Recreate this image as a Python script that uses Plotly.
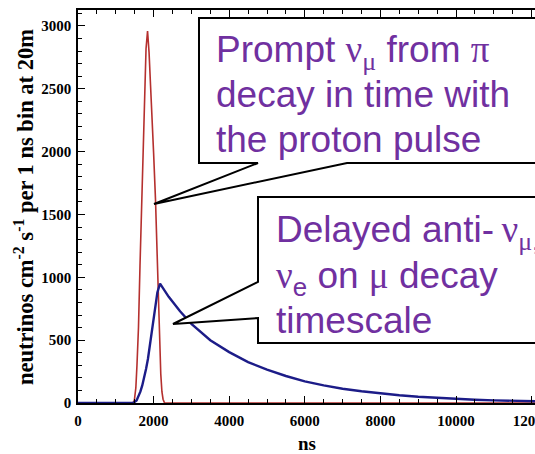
import plotly.graph_objects as go

# ---- data ----
red_ns = [0, 1450, 1490, 1530, 1560, 1600, 1640, 1680, 1720, 1760, 1800, 1840, 1880,
          1920, 1960, 2000, 2050, 2100, 2150, 2190, 2220, 2250, 2290, 12500]
red_val = [0, 0, 20, 120, 300, 600, 1090, 1500, 1920, 2380, 2820, 2960, 2790,
           2520, 2280, 1990, 1620, 1070, 560, 230, 90, 30, 0, 0]

blue_ns = [0, 1460, 1550, 1600, 1650, 1700, 1750, 1800, 1850, 1900, 1950, 2000, 2050,
           2100, 2170, 2400, 2700, 3000, 3500, 4000, 4500, 5000, 5500, 6000, 6500,
           7000, 7500, 8000, 8500, 9000, 9500, 10000, 10500, 11000, 11500, 12000, 12500]
blue_val = [0, 0, 20, 50, 90, 140, 200, 270, 350, 460, 580, 700, 800,
            880, 950, 845, 730, 630, 500, 405, 325, 265, 215, 172, 140,
            113, 93, 76, 62, 50, 40, 32, 26, 21, 18, 15, 12]

x_ticks = [0, 2000, 4000, 6000, 8000, 10000, 12000]
y_ticks = [0, 500, 1000, 1500, 2000, 2500, 3000]

W, H = 535, 454
ML, MR, MT, MB = 78, 0, 10, 51
PW, PH = W - ML - MR, H - MT - MB


def px(x):
    return (x - ML) / PW


def py(y):
    return (H - MB - y) / PH


fig = go.Figure()
fig.add_trace(go.Scatter(x=red_ns, y=red_val, mode="lines",
                         line=dict(color="#b5302e", width=1.6), showlegend=False))
fig.add_trace(go.Scatter(x=blue_ns, y=blue_val, mode="lines",
                         line=dict(color="#1c1c88", width=2.4), showlegend=False))

tickfont = dict(family="Liberation Serif, Times New Roman, serif", size=15, color="black")

fig.update_layout(
    width=W, height=H, autosize=False,
    margin=dict(l=ML, r=MR, t=MT, b=MB, pad=0, autoexpand=False),
    paper_bgcolor="white", plot_bgcolor="white",
    xaxis=dict(range=[0, 12090], tickvals=x_ticks, ticktext=[f"<b>{v}</b>" for v in x_ticks],
               ticks="inside", ticklen=7, tickwidth=1, tickcolor="black",
               minor=dict(dtick=500, tick0=0, ticks="inside", ticklen=4, tickcolor="black"),
               showline=True, linecolor="black", linewidth=1.5, mirror="ticks",
               showgrid=False, zeroline=False, tickfont=tickfont, ticklabelstandoff=3,
               ticklabeloverflow="allow", automargin=False),
    yaxis=dict(range=[0, 3127], tickvals=y_ticks, ticktext=[f"<b>{v}</b>" for v in y_ticks],
               ticks="inside", ticklen=7, tickwidth=1, tickcolor="black",
               minor=dict(dtick=100, tick0=0, ticks="inside", ticklen=4, tickcolor="black"),
               showline=True, linecolor="black", linewidth=1.5, mirror=False,
               showgrid=False, zeroline=False, tickfont=tickfont, ticklabelstandoff=2,
               automargin=False),
)

# callout boxes
def path(points):
    s = "M " + " L ".join(f"{px(a):.5f},{py(b):.5f}" for a, b in points) + " Z"
    return s

box1 = [(199, 18), (545, 18), (545, 163), (347, 163), (154, 204), (258, 163), (199, 163)]
box2 = [(258, 197), (545, 197), (545, 343), (258, 343), (258, 318), (173, 324), (258, 282)]
for b in (box1, box2):
    fig.add_shape(type="path", path=path(b), xref="paper", yref="paper",
                  fillcolor="white", line=dict(color="black", width=2), layer="above")

purple = "#7030a0"
sans = "Liberation Sans, Arial, sans-serif"
SER = "font-family:'Liberation Serif',serif"
nu = f"<span style=\"{SER}\">ν</span>"
mu = f"<span style=\"{SER}\">μ</span>"
pi = f"<span style=\"{SER}\">π</span>"

lines = [
    (215, 62, f"Prompt {nu}<sub>{mu}</sub> from {pi}"),
    (215, 107.5, "decay in time with"),
    (215, 152, "the proton pulse"),
    (275, 242, f"Delayed anti-\u2009{nu}<sub>{mu},</sub>"),
    (275, 288, f"{nu}<sub>e</sub> on {mu} decay"),
    (275, 333, "timescale"),
]
for x0, base, txt in lines:
    fig.add_annotation(x=px(x0), y=py(base - 34.5), xref="paper", yref="paper",
                       xanchor="left", yanchor="top", text=txt, showarrow=False,
                       font=dict(family=sans, size=37, color=purple), borderpad=0)

# axis titles
fig.add_annotation(x=px(24), y=py(207), xref="paper", yref="paper", textangle=-90,
                   text="<b>neutrinos cm<sup>-2</sup> s<sup>-1</sup> per 1 ns bin at 20m</b>",
                   showarrow=False, xanchor="center", yanchor="middle",
                   font=dict(family="Liberation Serif, Times New Roman, serif", size=22.5, color="black"))
fig.add_annotation(x=px(307), y=py(443), xref="paper", yref="paper",
                   text="<b>ns</b>", showarrow=False, xanchor="center", yanchor="middle",
                   font=dict(family="Liberation Serif, Times New Roman, serif", size=19, color="black"))

fig.write_html("out.html")
